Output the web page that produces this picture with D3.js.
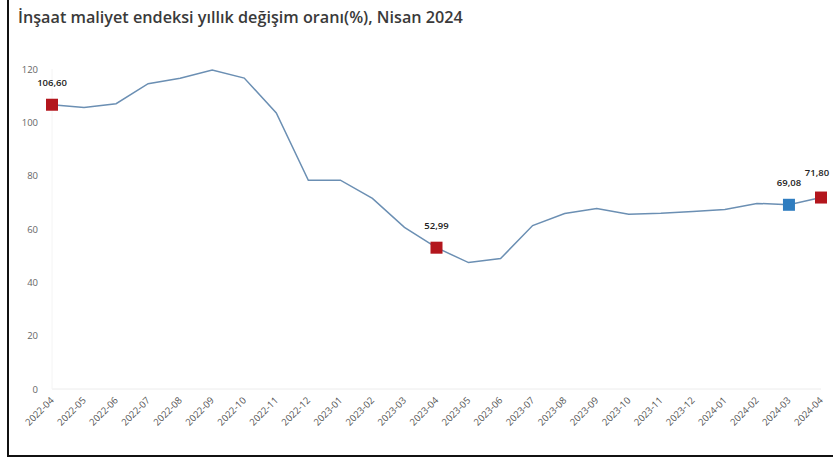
<!DOCTYPE html>
<html><head><meta charset="utf-8">
<script src="https://cdn.jsdelivr.net/npm/d3@7"></script>
<style>body{margin:0;background:#fff}svg{display:block}</style>
</head><body>
<svg id="c" width="833" height="461"></svg>
<script>
const months = ["2022-04","2022-05","2022-06","2022-07","2022-08","2022-09","2022-10","2022-11","2022-12","2023-01","2023-02","2023-03","2023-04","2023-05","2023-06","2023-07","2023-08","2023-09","2023-10","2023-11","2023-12","2024-01","2024-02","2024-03","2024-04"];
const values = [106.60,105.6,107.0,114.5,116.5,119.6,116.6,103.5,78.3,78.3,71.5,60.6,52.99,47.4,48.9,61.3,65.8,67.7,65.5,65.9,66.6,67.3,69.6,69.08,71.80];
const yTicks = [0,20,40,60,80,100,120];
const highlights = [
  {month:"2022-04", label:"106,60", color:"#b3161d"},
  {month:"2023-04", label:"52,99", color:"#b3161d"},
  {month:"2024-03", label:"69,08", color:"#2f7dc0"},
  {month:"2024-04", label:"71,80", color:"#b3161d"}
];
const title = "İnşaat maliyet endeksi yıllık değişim oranı(%), Nisan 2024";

const svg = d3.select("#c");
const x = d3.scalePoint().domain(months).range([52, 821]);
const y = d3.scaleLinear().domain([0,120]).range([389, 69]);

// frame
svg.append("line").attr("x1",8).attr("x2",8).attr("y1",0).attr("y2",457).attr("stroke","#111").attr("stroke-width",2);
svg.append("line").attr("x1",7).attr("x2",833).attr("y1",456).attr("y2",456).attr("stroke","#111").attr("stroke-width",2);

svg.append("text").attr("x",18).attr("y",23).text(title)
  .attr("font-family","'Open Sans', sans-serif").attr("font-weight",600).attr("font-size",16.2).attr("fill","#3a3a3a");

// faint axis lines
svg.append("line").attr("x1",52).attr("x2",821).attr("y1",y(0)).attr("y2",y(0)).attr("stroke","#ececec");
svg.append("line").attr("x1",52).attr("x2",52).attr("y1",y(0)).attr("y2",y(120)).attr("stroke","#f4f4f4");

// y axis
const ya = svg.append("g").attr("transform","translate(38,0)")
  .call(d3.axisLeft(y).tickValues(yTicks).tickSize(0).tickPadding(0));
ya.select(".domain").remove();
ya.selectAll("text").attr("font-family","'Open Sans', sans-serif").attr("font-size",9.5).attr("fill","#666");

// x axis
const xa = svg.append("g").attr("transform",`translate(0,${y(0)})`)
  .call(d3.axisBottom(x).tickSize(0).tickPadding(0));
xa.select(".domain").remove();
xa.selectAll("text").attr("font-family","'Open Sans', sans-serif").attr("font-size",9.5).attr("fill","#555")
  .attr("text-anchor","end").attr("dy",0)
  .attr("transform","translate(2,12) rotate(-45)");

// line
svg.append("path").datum(values)
  .attr("d", d3.line().x((d,i)=>x(months[i])).y(d=>y(d)))
  .attr("fill","none").attr("stroke","#6b8fb3").attr("stroke-width",1.5);

// highlights
highlights.forEach(h=>{
  const i = months.indexOf(h.month), v = values[i];
  const last = h.month==="2024-04";
  svg.append("rect").attr("x",x(h.month)-6).attr("y",y(v)-6).attr("width",12).attr("height",12).attr("fill",h.color);
  svg.append("text").attr("x",x(h.month)+(last?-4:0)).attr("y",y(v)-(last?22:19))
    .attr("text-anchor","middle").text(h.label)
    .attr("font-family","'Open Sans', sans-serif").attr("font-weight",600).attr("font-size",9.5).attr("fill","#222");
});
</script>
</body></html>
